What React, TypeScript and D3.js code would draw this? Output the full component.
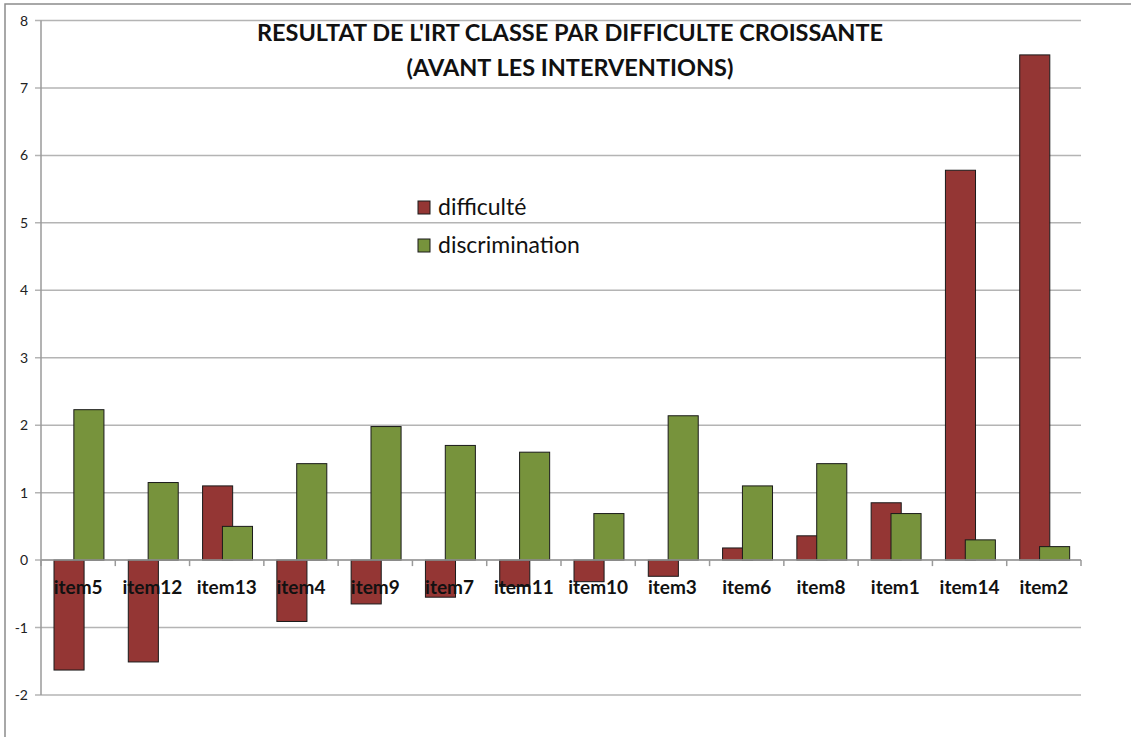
import React from "react";
import * as d3 from "d3";

const items = ["item5", "item12", "item13", "item4", "item9", "item7", "item11", "item10", "item3", "item6", "item8", "item1", "item14", "item2"];
const difficulte = [-1.63, -1.51, 1.1, -0.91, -0.65, -0.55, -0.39, -0.32, -0.24, 0.18, 0.36, 0.85, 5.78, 7.49];
const discrimination = [2.23, 1.15, 0.5, 1.43, 1.98, 1.7, 1.6, 0.69, 2.14, 1.1, 1.43, 0.69, 0.3, 0.2];
const yTicks = [-2, -1, 0, 1, 2, 3, 4, 5, 6, 7, 8];
const seriesNames = ["difficulté", "discrimination"];
const seriesColors = ["#943634", "#77933C"];
const titleLines = ["RESULTAT DE L'IRT CLASSE PAR DIFFICULTE CROISSANTE", "(AVANT LES INTERVENTIONS)"];

const W = 1131;
const H = 737;
const FONT = "Lato, 'Open Sans', sans-serif";

const App = () => {
  const svgRef = React.useRef<SVGSVGElement>(null);

  React.useEffect(() => {
    const svg = d3.select(svgRef.current);
    svg.selectAll("*").remove();

    const left = 41;
    const right = 1081;
    const top = 20.5;
    const bottom = 695;

    // outer frame
    svg
      .append("rect")
      .attr("x", 5)
      .attr("y", 4)
      .attr("width", W + 10)
      .attr("height", H + 10)
      .style("fill", "white")
      .style("stroke", "#8c8c8c")
      .style("stroke-width", 1.5);

    const x = d3.scaleBand().domain(items).range([left, right]);
    const y = d3.scaleLinear().domain([-2, 8]).range([bottom, top]);

    // gridlines
    svg
      .selectAll("grid")
      .data(yTicks)
      .enter()
      .append("line")
      .attr("x1", left - 6)
      .attr("x2", right)
      .attr("y1", (d) => y(d))
      .attr("y2", (d) => y(d))
      .style("stroke", "#b4b4b4")
      .style("stroke-width", 1.5);

    // y axis line
    svg
      .append("line")
      .attr("x1", left)
      .attr("x2", left)
      .attr("y1", top)
      .attr("y2", bottom)
      .style("stroke", "#9a9a9a")
      .style("stroke-width", 1.5);

    // y tick labels
    svg
      .selectAll("ylab")
      .data(yTicks)
      .enter()
      .append("text")
      .attr("x", 28)
      .attr("y", (d) => y(d) + 5)
      .attr("text-anchor", "end")
      .style("font-family", FONT)
      .style("font-size", "14px")
      .style("fill", "#222")
      .text((d) => String(d));

    // bars
    const step = x.bandwidth();
    const barW = step * 0.405;
    const offsets = [step * 0.175, step * 0.175 + barW * 0.66];
    [difficulte, discrimination].forEach((vals, si) => {
      svg
        .selectAll(`bars${si}`)
        .data(vals)
        .enter()
        .append("rect")
        .attr("x", (d, i) => (x(items[i]) as number) + offsets[si])
        .attr("y", (d) => y(Math.max(0, d)))
        .attr("width", barW)
        .attr("height", (d) => Math.abs(y(d) - y(0)))
        .style("fill", seriesColors[si])
        .style("stroke", "#1a1a1a")
        .style("stroke-width", 1);
    });

    // zero axis line and category ticks
    svg
      .append("line")
      .attr("x1", left)
      .attr("x2", right)
      .attr("y1", y(0))
      .attr("y2", y(0))
      .style("stroke", "#9a9a9a")
      .style("stroke-width", 1.5);
    svg
      .selectAll("xtick")
      .data(items.concat(["end"]))
      .enter()
      .append("line")
      .attr("x1", (d, i) => left + i * step)
      .attr("x2", (d, i) => left + i * step)
      .attr("y1", y(0))
      .attr("y2", y(0) + 6)
      .style("stroke", "#9a9a9a")
      .style("stroke-width", 1.5);

    // category labels
    svg
      .selectAll("xlab")
      .data(items)
      .enter()
      .append("text")
      .attr("x", (d) => (x(d) as number) + step / 2)
      .attr("y", y(0) + 34)
      .attr("text-anchor", "middle")
      .style("font-family", FONT)
      .style("font-weight", "bold")
      .style("font-size", "19px")
      .style("fill", "#111")
      .text((d) => d);

    // title
    svg
      .selectAll("title")
      .data(titleLines)
      .enter()
      .append("text")
      .attr("x", 570)
      .attr("y", (d, i) => 41 + i * 35)
      .attr("text-anchor", "middle")
      .style("font-family", FONT)
      .style("font-weight", "bold")
      .style("font-size", "23.5px")
      .style("fill", "#111")
      .text((d) => d);

    // legend
    const legend = svg
      .selectAll("legend")
      .data(seriesNames)
      .enter()
      .append("g")
      .attr("transform", (d, i) => `translate(418, ${201 + i * 38})`);
    legend
      .append("rect")
      .attr("width", 12)
      .attr("height", 13)
      .style("fill", (d, i) => seriesColors[i])
      .style("stroke", "#1a1a1a")
      .style("stroke-width", 1);
    legend
      .append("text")
      .attr("x", 20)
      .attr("y", 14)
      .style("font-family", FONT)
      .style("font-size", "23px")
      .style("fill", "#111")
      .text((d) => d);
  }, []);

  return (
    <svg
      ref={svgRef}
      width={W}
      height={H}
      style={{ position: "absolute", left: 0, top: 0, background: "white" }}
    />
  );
};

export default App;
